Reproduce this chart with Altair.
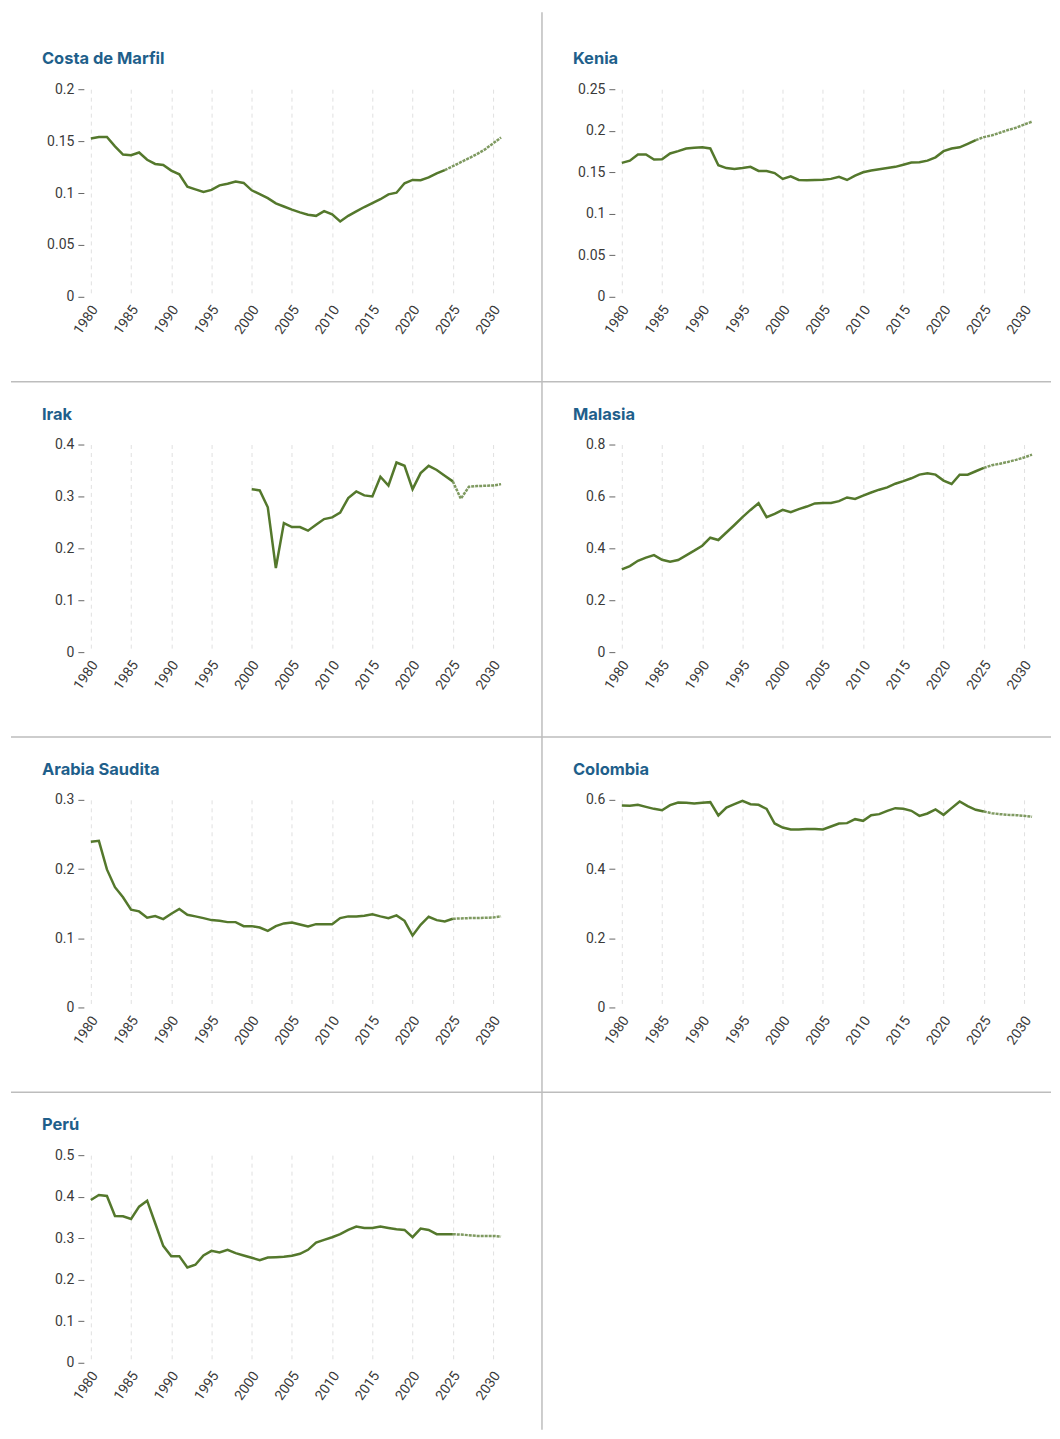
import altair as alt
import pandas as pd

years = list(range(1980, 2032))

countries = ["Costa de Marfil", "Kenia", "Irak", "Malasia", "Arabia Saudita", "Colombia", "Perú"]

costa = [0.1526, 0.1539, 0.154, 0.145, 0.137, 0.1365, 0.139, 0.132, 0.128, 0.127,
         0.1216, 0.118, 0.106, 0.1035, 0.101, 0.103, 0.1074, 0.109, 0.111, 0.1097,
         0.1026, 0.099, 0.095, 0.090, 0.087, 0.084, 0.0813, 0.079, 0.078, 0.0826,
         0.0794, 0.0726, 0.078, 0.0823, 0.0865, 0.0903, 0.094, 0.0987, 0.1003, 0.1094,
         0.1126, 0.1123, 0.115, 0.119, 0.122, 0.1258, 0.1297, 0.1335, 0.1374, 0.142,
         0.1477, 0.1535]

kenia = [0.1613, 0.164, 0.1714, 0.1714, 0.1653, 0.1657, 0.1726, 0.1754, 0.1786, 0.1794,
         0.1802, 0.1786, 0.1585, 0.155, 0.154, 0.155, 0.1565, 0.1516, 0.1516, 0.149,
         0.142, 0.145, 0.1407, 0.1403, 0.1407, 0.141, 0.142, 0.1444, 0.1407, 0.146,
         0.150, 0.152, 0.1536, 0.155, 0.1565, 0.159, 0.1617, 0.162, 0.164, 0.168,
         0.1754, 0.1786, 0.180, 0.1843, 0.1887, 0.1923, 0.1944, 0.1976, 0.2008, 0.2036,
         0.2073, 0.211]

irak = [None] * 20 + [
         0.314, 0.3115, 0.279, 0.162, 0.2487, 0.241, 0.241, 0.234, 0.2455, 0.2564,
         0.2596, 0.269, 0.2968, 0.3096, 0.302, 0.300, 0.338, 0.321, 0.3654, 0.359,
         0.314, 0.345, 0.359, 0.351, 0.340, 0.329, 0.2955, 0.3186, 0.320, 0.3205,
         0.321, 0.3237]

malasia = [0.3187, 0.3316, 0.352, 0.364, 0.374, 0.356, 0.348, 0.355, 0.373, 0.391,
           0.410, 0.441, 0.432, 0.461, 0.490, 0.520, 0.548, 0.574, 0.520, 0.533,
           0.548, 0.539, 0.551, 0.561, 0.573, 0.575, 0.575, 0.582, 0.596, 0.590,
           0.603, 0.615, 0.626, 0.635, 0.649, 0.659, 0.670, 0.684, 0.689, 0.684,
           0.661, 0.648, 0.684, 0.684, 0.697, 0.710, 0.720, 0.726, 0.733, 0.741,
           0.750, 0.761]

saudita = [0.2393, 0.2408, 0.1995, 0.1738, 0.1592, 0.1413, 0.1388, 0.1296, 0.132, 0.1277,
           0.1354, 0.1422, 0.134, 0.1316, 0.1291, 0.1262, 0.1252, 0.1233, 0.1233, 0.1175,
           0.1175, 0.1155, 0.1107, 0.1175, 0.1214, 0.1228, 0.1199, 0.117, 0.1204, 0.1204,
           0.1204, 0.1291, 0.1316, 0.1316, 0.1325, 0.1345, 0.1316, 0.1291, 0.133, 0.1252,
           0.1039, 0.1194, 0.1311, 0.1262, 0.1243, 0.1282, 0.1286, 0.1291, 0.1291, 0.1296,
           0.130, 0.1316]

colombia = [0.5837, 0.5827, 0.5856, 0.5798, 0.574, 0.570, 0.5846, 0.5923, 0.5913, 0.5894,
            0.5913, 0.5933, 0.5548, 0.5779, 0.5875, 0.597, 0.5875, 0.5856, 0.574, 0.5317,
            0.520, 0.5144, 0.5144, 0.5154, 0.5154, 0.5144, 0.523, 0.5317, 0.5327, 0.5442,
            0.5394, 0.5558, 0.5587, 0.5683, 0.576, 0.574, 0.5683, 0.5538, 0.5606, 0.5721,
            0.5567, 0.576, 0.5952, 0.5817, 0.5712, 0.5663, 0.5615, 0.5587, 0.5567, 0.5558,
            0.5538, 0.551]

peru = [0.392, 0.404, 0.4016, 0.3536, 0.3528, 0.3464, 0.376, 0.3904, 0.336, 0.2816,
        0.2568, 0.2568, 0.2296, 0.236, 0.2584, 0.2696, 0.2656, 0.272, 0.264, 0.2584,
        0.2528, 0.2472, 0.2536, 0.2544, 0.2552, 0.2576, 0.2624, 0.272, 0.2896, 0.296,
        0.3024, 0.3096, 0.32, 0.328, 0.3248, 0.3248, 0.328, 0.3248, 0.3216, 0.32,
        0.3024, 0.3232, 0.32, 0.3096, 0.3096, 0.3096, 0.3088, 0.3072, 0.3056, 0.3056,
        0.3056, 0.304]

series = [costa, kenia, irak, malasia, saudita, colombia, peru]
forecast_start = [2024, 2024, 2025, 2025, 2025, 2025, 2025]
y_domains = [[0, 0.2], [0, 0.25], [0, 0.4], [0, 0.8], [0, 0.3], [0, 0.6], [0, 0.5]]
y_ticks = [[0, 0.05, 0.1, 0.15, 0.2],
           [0, 0.05, 0.1, 0.15, 0.2, 0.25],
           [0, 0.1, 0.2, 0.3, 0.4],
           [0, 0.2, 0.4, 0.6, 0.8],
           [0, 0.1, 0.2, 0.3],
           [0, 0.2, 0.4, 0.6],
           [0, 0.1, 0.2, 0.3, 0.4, 0.5]]
x_ticks = list(range(1980, 2031, 5))

LINE = "#54782c"
TITLE = "#1f5f8b"
SEP = "#bdbdbd"
W, H = 411, 208
ROW_STEP = 356

one = pd.DataFrame({"d": [0]})


def panel(i):
    name = countries[i]
    df = pd.DataFrame({"year": years, "value": series[i]}).dropna()
    fs = forecast_start[i]
    x = alt.X("year:Q",
              scale=alt.Scale(domain=[1980, 2031], nice=False, zero=False),
              axis=alt.Axis(values=x_ticks, format="d", labelAngle=-55, grid=True,
                            gridDash=[4, 4], gridColor="#e0e0e0", ticks=False,
                            domain=False, title=None, labelPadding=10, labelOffset=4))
    y = alt.Y("value:Q",
              scale=alt.Scale(domain=y_domains[i], nice=False, zero=True),
              axis=alt.Axis(values=y_ticks[i], format="~g", grid=False, domain=False,
                            tickSize=6, offset=7, labelPadding=4, title=None,
                            tickColor="#666"))
    actual = alt.Chart(df).transform_filter(alt.datum.year <= fs).mark_line(
        color=LINE, strokeWidth=2.5).encode(x=x, y=y)
    fc = alt.Chart(df).transform_filter(alt.datum.year >= fs).mark_line(
        color=LINE, strokeWidth=2.5, strokeDash=[3, 1], opacity=0.75).encode(x=x, y=y)
    title = alt.Chart(one).mark_text(
        align="left", baseline="middle", font="Inter", fontWeight="bold",
        fontSize=16.5, color=TITLE).encode(
        x=alt.value(-49), y=alt.value(-30), text=alt.value(name))
    layers = [actual, fc, title]
    row = i // 2
    if i % 2 == 0:
        top = -77 if row == 0 else -63
        bottom = 293 if row < 3 else 275
        layers.append(alt.Chart(one).mark_rule(color=SEP, strokeWidth=1.5).encode(
            x=alt.value(452), y=alt.value(top), y2=alt.value(bottom)))
        if row < 3:
            layers.append(alt.Chart(one).mark_rule(color=SEP, strokeWidth=1.5).encode(
                x=alt.value(-80), x2=alt.value(962), y=alt.value(293)))
    return alt.layer(*layers).properties(width=W, height=H)


chart = alt.concat(*[panel(i) for i in range(len(countries))], columns=2,
                   spacing={"row": ROW_STEP - H, "column": 121},
                   bounds="flush").properties(
    padding={"left": 2, "top": 2, "right": 0, "bottom": 0},
    background="white",
).configure_view(stroke=None).configure_axis(
    labelFont="Roboto", labelFontSize=14, labelColor="#3a3a3a"
)

chart.save("out.html", embed_options={"renderer": "svg", "actions": False})
